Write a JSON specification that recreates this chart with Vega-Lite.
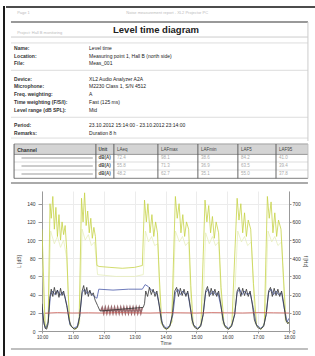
{
"$schema": "https://vega.github.io/schema/vega-lite/v6.json",
"padding": {"left": 3, "top": 6, "right": 0, "bottom": 0},
"config": {"view": {"stroke": null}, "font": "Liberation Sans",
  "axis": {"labelFontSize": 5, "titleFontSize": 5, "titleFontWeight": "normal", "labelColor": "#333", "titleColor": "#444", "tickColor": "#999", "domainColor": "#999", "tickSize": 3, "gridColor": "#ececec", "labelOverlap": false}},
"datasets": {
 "info": [
  {"line": 0, "label": "Name:", "value": "Level time"},
  {"line": 1, "label": "Location:", "value": "Measuring point 1, Hall B (north side)"},
  {"line": 2, "label": "File:", "value": "Meas_001"},
  {"line": 4, "label": "Device:", "value": "XL2 Audio Analyzer A2A"},
  {"line": 5, "label": "Microphone:", "value": "M2230 Class 1, S/N 4512"},
  {"line": 6, "label": "Freq. weighting:", "value": "A"},
  {"line": 7, "label": "Time weighting (F/S/I):", "value": "Fast (125 ms)"},
  {"line": 8, "label": "Level range (dB SPL):", "value": "Mid"},
  {"line": 10, "label": "Period:", "value": "23.10.2012 15:14:00 - 23.10.2012 23:14:00"},
  {"line": 11, "label": "Remarks:", "value": "Duration 8 h"}
 ],
 "table": [
  {"row": 0, "name": "Channel", "unit": "Unit", "c3": "LAeq", "c4": "LAFmax", "c5": "LAFmin", "c6": "LAF5", "c7": "LAF95"},
  {"row": 1, "name": "", "unit": "dB(A)", "c3": "72.4", "c4": "98.1", "c5": "38.6", "c6": "84.2", "c7": "41.0"},
  {"row": 2, "name": "", "unit": "dB(A)", "c3": "55.8", "c4": "71.3", "c5": "36.9", "c6": "63.5", "c7": "39.4"},
  {"row": 3, "name": "", "unit": "dB(A)", "c3": "48.2", "c4": "62.7", "c5": "35.1", "c6": "55.0", "c7": "37.8"}
 ],
 "swatch": [{"row": 1}, {"row": 2}, {"row": 3}],
 "yellow": [
  {"t":0,"v":112},{"t":0.05,"v":60},{"t":0.1,"v":6},{"t":0.15,"v":3},{"t":0.2,"v":12},{"t":0.26,"v":140},{"t":0.3,"v":124},{"t":0.35,"v":148},{"t":0.4,"v":112},{"t":0.45,"v":136},{"t":0.5,"v":104},{"t":0.55,"v":128},{"t":0.6,"v":100},{"t":0.65,"v":120},{"t":0.7,"v":106},{"t":0.75,"v":116},{"t":0.8,"v":90},{"t":0.85,"v":40},{"t":0.9,"v":8},{"t":1.0,"v":3},{"t":1.1,"v":2},{"t":1.2,"v":8},{"t":1.28,"v":146},{"t":1.33,"v":120},{"t":1.38,"v":152},{"t":1.43,"v":116},{"t":1.48,"v":132},{"t":1.53,"v":108},{"t":1.58,"v":124},{"t":1.63,"v":102},{"t":1.68,"v":114},{"t":1.73,"v":104},{"t":1.78,"v":72},{"t":1.85,"v":71},{"t":2.2,"v":70},{"t":2.6,"v":69},{"t":3.0,"v":70},{"t":3.25,"v":72},{"t":3.32,"v":144},{"t":3.38,"v":120},{"t":3.43,"v":140},{"t":3.5,"v":108},{"t":3.56,"v":128},{"t":3.62,"v":104},{"t":3.68,"v":120},{"t":3.74,"v":108},{"t":3.8,"v":60},{"t":3.88,"v":8},{"t":4.0,"v":2},{"t":4.1,"v":3},{"t":4.2,"v":10},{"t":4.32,"v":148},{"t":4.38,"v":124},{"t":4.44,"v":140},{"t":4.5,"v":108},{"t":4.56,"v":128},{"t":4.62,"v":104},{"t":4.68,"v":120},{"t":4.75,"v":112},{"t":4.82,"v":50},{"t":4.9,"v":6},{"t":5.05,"v":2},{"t":5.15,"v":8},{"t":5.28,"v":144},{"t":5.34,"v":120},{"t":5.4,"v":138},{"t":5.46,"v":108},{"t":5.52,"v":126},{"t":5.58,"v":102},{"t":5.64,"v":120},{"t":5.72,"v":108},{"t":5.8,"v":48},{"t":5.9,"v":6},{"t":6.05,"v":2},{"t":6.15,"v":8},{"t":6.32,"v":146},{"t":6.38,"v":122},{"t":6.44,"v":140},{"t":6.5,"v":108},{"t":6.56,"v":130},{"t":6.62,"v":104},{"t":6.68,"v":122},{"t":6.76,"v":112},{"t":6.85,"v":52},{"t":6.95,"v":6},{"t":7.1,"v":2},{"t":7.2,"v":8},{"t":7.3,"v":148},{"t":7.36,"v":124},{"t":7.42,"v":142},{"t":7.48,"v":108},{"t":7.54,"v":130},{"t":7.6,"v":104},{"t":7.66,"v":122},{"t":7.74,"v":112},{"t":7.82,"v":60},{"t":7.9,"v":12},{"t":8.0,"v":8}
 ],
 "yellow2": [
  {"t":0,"v":80},{"t":0.1,"v":5},{"t":0.2,"v":10},{"t":0.28,"v":110},{"t":0.4,"v":96},{"t":0.5,"v":104},{"t":0.6,"v":92},{"t":0.7,"v":100},{"t":0.8,"v":80},{"t":0.9,"v":6},{"t":1.1,"v":2},{"t":1.22,"v":10},{"t":1.3,"v":112},{"t":1.4,"v":100},{"t":1.5,"v":106},{"t":1.6,"v":94},{"t":1.7,"v":98},{"t":1.8,"v":62},{"t":2.4,"v":60},{"t":3.0,"v":60},{"t":3.28,"v":62},{"t":3.35,"v":110},{"t":3.45,"v":98},{"t":3.55,"v":104},{"t":3.65,"v":94},{"t":3.75,"v":96},{"t":3.85,"v":8},{"t":4.05,"v":2},{"t":4.22,"v":10},{"t":4.32,"v":110},{"t":4.45,"v":98},{"t":4.55,"v":104},{"t":4.65,"v":94},{"t":4.75,"v":98},{"t":4.85,"v":8},{"t":5.05,"v":2},{"t":5.2,"v":10},{"t":5.3,"v":108},{"t":5.42,"v":96},{"t":5.52,"v":104},{"t":5.62,"v":94},{"t":5.72,"v":98},{"t":5.84,"v":8},{"t":6.05,"v":2},{"t":6.2,"v":10},{"t":6.34,"v":110},{"t":6.46,"v":98},{"t":6.56,"v":104},{"t":6.66,"v":94},{"t":6.78,"v":98},{"t":6.9,"v":8},{"t":7.1,"v":2},{"t":7.22,"v":10},{"t":7.32,"v":110},{"t":7.44,"v":98},{"t":7.54,"v":104},{"t":7.64,"v":94},{"t":7.76,"v":98},{"t":7.88,"v":10},{"t":8.0,"v":8}
 ],
 "blue": [
  {"t":0,"v":26},{"t":0.06,"v":8},{"t":0.12,"v":3},{"t":0.2,"v":10},{"t":0.27,"v":38},{"t":0.34,"v":44},{"t":0.42,"v":40},{"t":0.5,"v":45},{"t":0.58,"v":39},{"t":0.66,"v":43},{"t":0.74,"v":38},{"t":0.82,"v":26},{"t":0.9,"v":7},{"t":1.02,"v":3},{"t":1.14,"v":5},{"t":1.22,"v":16},{"t":1.3,"v":42},{"t":1.38,"v":46},{"t":1.46,"v":41},{"t":1.54,"v":44},{"t":1.62,"v":40},{"t":1.7,"v":38},{"t":1.78,"v":36},{"t":1.84,"v":46},{"t":2.3,"v":45},{"t":2.8,"v":46},{"t":3.25,"v":46},{"t":3.34,"v":51},{"t":3.44,"v":49},{"t":3.54,"v":45},{"t":3.62,"v":43},{"t":3.72,"v":41},{"t":3.8,"v":28},{"t":3.9,"v":8},{"t":4.02,"v":3},{"t":4.14,"v":6},{"t":4.24,"v":18},{"t":4.32,"v":42},{"t":4.4,"v":46},{"t":4.48,"v":40},{"t":4.56,"v":44},{"t":4.64,"v":40},{"t":4.72,"v":42},{"t":4.8,"v":26},{"t":4.9,"v":7},{"t":5.04,"v":3},{"t":5.14,"v":6},{"t":5.22,"v":18},{"t":5.3,"v":42},{"t":5.38,"v":46},{"t":5.46,"v":40},{"t":5.54,"v":44},{"t":5.62,"v":40},{"t":5.7,"v":42},{"t":5.8,"v":26},{"t":5.9,"v":7},{"t":6.04,"v":3},{"t":6.14,"v":6},{"t":6.24,"v":18},{"t":6.32,"v":42},{"t":6.4,"v":46},{"t":6.48,"v":40},{"t":6.56,"v":44},{"t":6.64,"v":40},{"t":6.74,"v":42},{"t":6.84,"v":26},{"t":6.94,"v":7},{"t":7.08,"v":3},{"t":7.18,"v":6},{"t":7.26,"v":18},{"t":7.34,"v":42},{"t":7.42,"v":46},{"t":7.5,"v":40},{"t":7.58,"v":44},{"t":7.66,"v":40},{"t":7.76,"v":42},{"t":7.84,"v":26},{"t":7.94,"v":10},{"t":8.0,"v":14}
 ],
 "band": [
  {"t":1.9,"v":22},{"t":1.95,"v":26},{"t":2.0,"v":19.5},{"t":2.05,"v":26},{"t":2.1,"v":19.5},{"t":2.15,"v":26},{"t":2.2,"v":19.5},{"t":2.25,"v":26},{"t":2.3,"v":19.5},{"t":2.35,"v":26},{"t":2.4,"v":19.5},{"t":2.45,"v":26},{"t":2.5,"v":19.5},{"t":2.55,"v":26},{"t":2.6,"v":19.5},{"t":2.65,"v":26},{"t":2.7,"v":19.5},{"t":2.75,"v":26},{"t":2.8,"v":19.5},{"t":2.85,"v":26},{"t":2.9,"v":19.5},{"t":2.95,"v":26},{"t":3.0,"v":19.5},{"t":3.05,"v":26},{"t":3.1,"v":19.5},{"t":3.15,"v":26},{"t":3.2,"v":19.5},{"t":3.25,"v":26}
 ],
 "dark": [
  {"t":0,"v":30},{"t":0.05,"v":12},{"t":0.1,"v":3},{"t":0.15,"v":2},{"t":0.2,"v":8},{"t":0.25,"v":36},{"t":0.3,"v":46},{"t":0.35,"v":38},{"t":0.4,"v":48},{"t":0.45,"v":40},{"t":0.5,"v":45},{"t":0.55,"v":37},{"t":0.6,"v":47},{"t":0.65,"v":39},{"t":0.7,"v":44},{"t":0.75,"v":36},{"t":0.8,"v":28},{"t":0.88,"v":12},{"t":0.95,"v":5},{"t":1.05,"v":2},{"t":1.15,"v":4},{"t":1.22,"v":16},{"t":1.3,"v":44},{"t":1.35,"v":50},{"t":1.4,"v":40},{"t":1.45,"v":48},{"t":1.5,"v":38},{"t":1.55,"v":45},{"t":1.6,"v":39},{"t":1.66,"v":42},{"t":1.72,"v":34},{"t":1.8,"v":28},{"t":1.88,"v":22},{"t":3.28,"v":26},{"t":3.32,"v":30},{"t":3.36,"v":44},{"t":3.42,"v":38},{"t":3.48,"v":48},{"t":3.54,"v":40},{"t":3.6,"v":46},{"t":3.66,"v":38},{"t":3.72,"v":44},{"t":3.78,"v":32},{"t":3.86,"v":12},{"t":3.94,"v":4},{"t":4.04,"v":2},{"t":4.14,"v":5},{"t":4.22,"v":18},{"t":4.3,"v":44},{"t":4.36,"v":48},{"t":4.42,"v":38},{"t":4.48,"v":47},{"t":4.54,"v":39},{"t":4.6,"v":46},{"t":4.66,"v":38},{"t":4.72,"v":44},{"t":4.78,"v":32},{"t":4.86,"v":12},{"t":4.94,"v":4},{"t":5.04,"v":2},{"t":5.14,"v":5},{"t":5.22,"v":18},{"t":5.3,"v":44},{"t":5.36,"v":49},{"t":5.42,"v":38},{"t":5.48,"v":47},{"t":5.54,"v":39},{"t":5.6,"v":46},{"t":5.66,"v":38},{"t":5.72,"v":44},{"t":5.78,"v":32},{"t":5.86,"v":12},{"t":5.94,"v":4},{"t":6.04,"v":2},{"t":6.14,"v":5},{"t":6.24,"v":18},{"t":6.32,"v":44},{"t":6.38,"v":48},{"t":6.44,"v":38},{"t":6.5,"v":47},{"t":6.56,"v":39},{"t":6.62,"v":46},{"t":6.68,"v":38},{"t":6.74,"v":44},{"t":6.8,"v":32},{"t":6.88,"v":12},{"t":6.98,"v":4},{"t":7.08,"v":2},{"t":7.18,"v":5},{"t":7.26,"v":18},{"t":7.34,"v":44},{"t":7.4,"v":48},{"t":7.46,"v":38},{"t":7.52,"v":47},{"t":7.58,"v":39},{"t":7.64,"v":46},{"t":7.7,"v":38},{"t":7.76,"v":44},{"t":7.82,"v":32},{"t":7.9,"v":12},{"t":7.96,"v":8},{"t":8.0,"v":10}
 ],
 "red": [
  {"t":0.1,"v":98},{"t":0.5,"v":101},{"t":1.0,"v":99},{"t":1.5,"v":100},{"t":2.0,"v":99},{"t":2.5,"v":101},{"t":3.0,"v":100},{"t":3.5,"v":99},{"t":4.0,"v":101},{"t":4.5,"v":100},{"t":5.0,"v":99},{"t":5.5,"v":101},{"t":6.0,"v":100},{"t":6.5,"v":99},{"t":7.0,"v":101},{"t":7.5,"v":100},{"t":8.0,"v":99}
 ]
},
"spacing": 0,
"hconcat": [
 {"width": 2, "height": 350, "view": {"fill": "#1a1a1a", "stroke": null}, "data": {"values": [{}]}, "mark": {"type": "text", "text": ""}},
 {"spacing": 0, "vconcat": [
  {"width": 310, "height": 135,
   "layer": [
    {"data": {"values": [{}]}, "mark": {"type": "rule", "color": "#111", "strokeWidth": 1.5},
     "encoding": {"x": {"datum": 0, "type": "quantitative", "scale": {"domain": [0, 100]}, "axis": null}, "x2": {"datum": 100}, "y": {"datum": -5.32, "type": "quantitative", "scale": {"domain": [-5.45, 12.08], "reverse": true}, "axis": null}}},
    {"data": {"values": [{}]}, "mark": {"type": "rule", "color": "#999", "strokeWidth": 2},
     "encoding": {"x": {"datum": 1.6, "type": "quantitative", "scale": {"domain": [0, 100]}, "axis": null}, "x2": {"datum": 97.4}, "y": {"datum": -3.37, "type": "quantitative", "scale": {"domain": [-5.45, 12.08], "reverse": true}, "axis": null}}},
    {"data": {"values": [{}]}, "mark": {"type": "rule", "color": "#ccc", "strokeWidth": 1},
     "encoding": {"x": {"datum": 1.6, "type": "quantitative", "scale": {"domain": [0, 100]}, "axis": null}, "x2": {"datum": 97.4}, "y": {"datum": -1.42, "type": "quantitative", "scale": {"domain": [-5.45, 12.08], "reverse": true}, "axis": null}}},
    {"data": {"values": [{}]}, "mark": {"type": "rule", "color": "#ddd", "strokeWidth": 1},
     "encoding": {"x": {"datum": 1.6, "type": "quantitative", "scale": {"domain": [0, 100]}, "axis": null}, "x2": {"datum": 97.4}, "y": {"datum": -0.65, "type": "quantitative", "scale": {"domain": [-5.45, 12.08], "reverse": true}, "axis": null}}},
    {"data": {"values": [{}]}, "mark": {"type": "rule", "color": "#ddd", "strokeWidth": 1},
     "encoding": {"x": {"datum": 1.6, "type": "quantitative", "scale": {"domain": [0, 100]}, "axis": null}, "x2": {"datum": 97.4}, "y": {"datum": 2.9, "type": "quantitative", "scale": {"domain": [-5.45, 12.08], "reverse": true}, "axis": null}}},
    {"data": {"values": [{}]}, "mark": {"type": "rule", "color": "#ddd", "strokeWidth": 1},
     "encoding": {"x": {"datum": 1.6, "type": "quantitative", "scale": {"domain": [0, 100]}, "axis": null}, "x2": {"datum": 97.4}, "y": {"datum": 9, "type": "quantitative", "scale": {"domain": [-5.45, 12.08], "reverse": true}, "axis": null}}},
    {"data": {"values": [{}]}, "mark": {"type": "rule", "color": "#ddd", "strokeWidth": 1},
     "encoding": {"x": {"datum": 1.6, "type": "quantitative", "scale": {"domain": [0, 100]}, "axis": null}, "x2": {"datum": 97.4}, "y": {"datum": 11.7, "type": "quantitative", "scale": {"domain": [-5.45, 12.08], "reverse": true}, "axis": null}}},
    {"data": {"values": [{}]}, "mark": {"type": "rule", "color": "#ccc", "strokeWidth": 1},
     "encoding": {"x": {"datum": 97.4, "type": "quantitative", "scale": {"domain": [0, 100]}, "axis": null}, "y": {"datum": -3.37, "type": "quantitative", "scale": {"domain": [-5.45, 12.08], "reverse": true}, "axis": null}, "y2": {"datum": 12.08}}},
    {"data": {"values": [{"txt": "Noise measurement report - XL2 Projector PC"}]}, "mark": {"type": "text", "align": "center", "baseline": "middle", "fontSize": 4, "color": "#bbb"},
     "encoding": {"x": {"datum": 52, "type": "quantitative", "scale": {"domain": [0, 100]}, "axis": null}, "y": {"datum": -4.55, "type": "quantitative", "scale": {"domain": [-5.45, 12.08], "reverse": true}, "axis": null}, "text": {"field": "txt"}}},
    {"data": {"values": [{"txt": "Page 1"}]}, "mark": {"type": "text", "align": "left", "baseline": "middle", "fontSize": 4, "color": "#bbb"},
     "encoding": {"x": {"datum": 3.6, "type": "quantitative", "scale": {"domain": [0, 100]}, "axis": null}, "y": {"datum": -4.55, "type": "quantitative", "scale": {"domain": [-5.45, 12.08], "reverse": true}, "axis": null}, "text": {"field": "txt"}}},
    {"data": {"values": [{"txt": "Project: Hall B monitoring"}]}, "mark": {"type": "text", "align": "left", "baseline": "middle", "fontSize": 4, "color": "#bbb"},
     "encoding": {"x": {"datum": 3.6, "type": "quantitative", "scale": {"domain": [0, 100]}, "axis": null}, "y": {"datum": -1.94, "type": "quantitative", "scale": {"domain": [-5.45, 12.08], "reverse": true}, "axis": null}, "text": {"field": "txt"}}},
    {"data": {"values": [{"txt": "Level time diagram"}]}, "mark": {"type": "text", "align": "center", "baseline": "middle", "fontSize": 9.5, "fontWeight": "bold", "color": "#222"},
     "encoding": {"x": {"datum": 48.4, "type": "quantitative", "scale": {"domain": [0, 100]}, "axis": null}, "y": {"datum": -2.33, "type": "quantitative", "scale": {"domain": [-5.45, 12.08], "reverse": true}, "axis": null}, "text": {"field": "txt"}}},
    {"data": {"name": "info"}, "mark": {"type": "text", "align": "left", "baseline": "middle", "fontSize": 5, "fontWeight": "bold", "color": "#333"},
     "encoding": {"x": {"datum": 2.6, "type": "quantitative", "scale": {"domain": [0, 100]}, "axis": null}, "y": {"field": "line", "type": "quantitative", "scale": {"domain": [-5.45, 12.08], "reverse": true}, "axis": null}, "text": {"field": "label"}}},
    {"data": {"name": "info"}, "mark": {"type": "text", "align": "left", "baseline": "middle", "fontSize": 5, "color": "#222"},
     "encoding": {"x": {"datum": 26.8, "type": "quantitative", "scale": {"domain": [0, 100]}, "axis": null}, "y": {"field": "line", "type": "quantitative", "scale": {"domain": [-5.45, 12.08], "reverse": true}, "axis": null}, "text": {"field": "value"}}}
   ]},
  {"width": 310, "height": 49,
   "layer": [
    {"data": {"values": [{}]}, "mark": {"type": "rect", "color": "#d4d4d4"},
     "encoding": {"x": {"datum": 2.6, "type": "quantitative", "scale": {"domain": [0, 100]}, "axis": null}, "x2": {"datum": 97.4}, "y": {"datum": -0.72, "type": "quantitative", "scale": {"domain": [-1, 5.125], "reverse": true}, "axis": null}, "y2": {"datum": 0.55}}},
    {"data": {"values": [{}]}, "mark": {"type": "rule", "color": "#999", "strokeWidth": 1},
     "encoding": {"x": {"datum": 2.6, "type": "quantitative", "scale": {"domain": [0, 100]}, "axis": null}, "x2": {"datum": 97.4}, "y": {"datum": -0.75, "type": "quantitative", "scale": {"domain": [-1, 5.125], "reverse": true}, "axis": null}}},
    {"data": {"values": [{}]}, "mark": {"type": "rule", "color": "#999", "strokeWidth": 1},
     "encoding": {"x": {"datum": 2.6, "type": "quantitative", "scale": {"domain": [0, 100]}, "axis": null}, "x2": {"datum": 97.4}, "y": {"datum": 0.55, "type": "quantitative", "scale": {"domain": [-1, 5.125], "reverse": true}, "axis": null}}},
    {"data": {"values": [{}]}, "mark": {"type": "rule", "color": "#ddd", "strokeWidth": 1},
     "encoding": {"x": {"datum": 2.6, "type": "quantitative", "scale": {"domain": [0, 100]}, "axis": null}, "x2": {"datum": 97.4}, "y": {"datum": 1.5, "type": "quantitative", "scale": {"domain": [-1, 5.125], "reverse": true}, "axis": null}}},
    {"data": {"values": [{}]}, "mark": {"type": "rule", "color": "#ddd", "strokeWidth": 1},
     "encoding": {"x": {"datum": 2.6, "type": "quantitative", "scale": {"domain": [0, 100]}, "axis": null}, "x2": {"datum": 97.4}, "y": {"datum": 2.5, "type": "quantitative", "scale": {"domain": [-1, 5.125], "reverse": true}, "axis": null}}},
    {"data": {"values": [{}]}, "mark": {"type": "rule", "color": "#999", "strokeWidth": 1.2},
     "encoding": {"x": {"datum": 2.6, "type": "quantitative", "scale": {"domain": [0, 100]}, "axis": null}, "x2": {"datum": 97.4}, "y": {"datum": 3.55, "type": "quantitative", "scale": {"domain": [-1, 5.125], "reverse": true}, "axis": null}}},
    {"data": {"values": [{}]}, "mark": {"type": "rule", "color": "#aaa", "strokeWidth": 2},
     "encoding": {"x": {"datum": 1.6, "type": "quantitative", "scale": {"domain": [0, 100]}, "axis": null}, "x2": {"datum": 97.4}, "y": {"datum": 4.125, "type": "quantitative", "scale": {"domain": [-1, 5.125], "reverse": true}, "axis": null}}},
    {"data": {"values": [{}]}, "mark": {"type": "rule", "color": "#555", "strokeWidth": 0.9},
     "encoding": {"x": {"datum": 2.6, "type": "quantitative", "scale": {"domain": [0, 100]}, "axis": null}, "y": {"datum": -0.75, "type": "quantitative", "scale": {"domain": [-1, 5.125], "reverse": true}, "axis": null}, "y2": {"datum": 3.55}}},
    {"data": {"values": [{}]}, "mark": {"type": "rule", "color": "#555", "strokeWidth": 0.9},
     "encoding": {"x": {"datum": 29.0, "type": "quantitative", "scale": {"domain": [0, 100]}, "axis": null}, "y": {"datum": -0.75, "type": "quantitative", "scale": {"domain": [-1, 5.125], "reverse": true}, "axis": null}, "y2": {"datum": 3.55}}},
    {"data": {"values": [{}]}, "mark": {"type": "rule", "color": "#555", "strokeWidth": 0.9},
     "encoding": {"x": {"datum": 34.8, "type": "quantitative", "scale": {"domain": [0, 100]}, "axis": null}, "y": {"datum": -0.75, "type": "quantitative", "scale": {"domain": [-1, 5.125], "reverse": true}, "axis": null}, "y2": {"datum": 3.55}}},
    {"data": {"values": [{}]}, "mark": {"type": "rule", "color": "#555", "strokeWidth": 0.9},
     "encoding": {"x": {"datum": 49.0, "type": "quantitative", "scale": {"domain": [0, 100]}, "axis": null}, "y": {"datum": -0.75, "type": "quantitative", "scale": {"domain": [-1, 5.125], "reverse": true}, "axis": null}, "y2": {"datum": 3.55}}},
    {"data": {"values": [{}]}, "mark": {"type": "rule", "color": "#555", "strokeWidth": 0.9},
     "encoding": {"x": {"datum": 61.9, "type": "quantitative", "scale": {"domain": [0, 100]}, "axis": null}, "y": {"datum": -0.75, "type": "quantitative", "scale": {"domain": [-1, 5.125], "reverse": true}, "axis": null}, "y2": {"datum": 3.55}}},
    {"data": {"values": [{}]}, "mark": {"type": "rule", "color": "#555", "strokeWidth": 0.9},
     "encoding": {"x": {"datum": 74.8, "type": "quantitative", "scale": {"domain": [0, 100]}, "axis": null}, "y": {"datum": -0.75, "type": "quantitative", "scale": {"domain": [-1, 5.125], "reverse": true}, "axis": null}, "y2": {"datum": 3.55}}},
    {"data": {"values": [{}]}, "mark": {"type": "rule", "color": "#555", "strokeWidth": 0.9},
     "encoding": {"x": {"datum": 87.1, "type": "quantitative", "scale": {"domain": [0, 100]}, "axis": null}, "y": {"datum": -0.75, "type": "quantitative", "scale": {"domain": [-1, 5.125], "reverse": true}, "axis": null}, "y2": {"datum": 3.55}}},
    {"data": {"values": [{}]}, "mark": {"type": "rule", "color": "#bbb", "strokeWidth": 0.9},
     "encoding": {"x": {"datum": 97.4, "type": "quantitative", "scale": {"domain": [0, 100]}, "axis": null}, "y": {"datum": -0.75, "type": "quantitative", "scale": {"domain": [-1, 5.125], "reverse": true}, "axis": null}, "y2": {"datum": 3.55}}},
    {"data": {"name": "swatch"}, "mark": {"type": "rule", "color": "#999", "strokeWidth": 1.2},
     "encoding": {"x": {"datum": 5, "type": "quantitative", "scale": {"domain": [0, 100]}, "axis": null}, "x2": {"datum": 28}, "y": {"field": "row", "type": "quantitative", "scale": {"domain": [-1, 5.125], "reverse": true}, "axis": null}}},
    {"data": {"name": "table"}, "mark": {"type": "text", "align": "left", "baseline": "middle", "fontSize": 5, "fontWeight": "bold", "color": "#333"},
     "encoding": {"x": {"datum": 3.6, "type": "quantitative", "scale": {"domain": [0, 100]}, "axis": null}, "y": {"field": "row", "type": "quantitative", "scale": {"domain": [-1, 5.125], "reverse": true}, "axis": null}, "text": {"field": "name"}}},
    {"data": {"name": "table"}, "mark": {"type": "text", "align": "left", "baseline": "middle", "fontSize": 4.5, "fontWeight": "bold", "color": "#444"},
     "encoding": {"x": {"datum": 29.8, "type": "quantitative", "scale": {"domain": [0, 100]}, "axis": null}, "y": {"field": "row", "type": "quantitative", "scale": {"domain": [-1, 5.125], "reverse": true}, "axis": null}, "text": {"field": "unit"}}},
    {"data": {"name": "table"}, "mark": {"type": "text", "align": "left", "baseline": "middle", "fontSize": 4.5},
     "encoding": {"x": {"datum": 35.8, "type": "quantitative", "scale": {"domain": [0, 100]}, "axis": null}, "y": {"field": "row", "type": "quantitative", "scale": {"domain": [-1, 5.125], "reverse": true}, "axis": null}, "text": {"field": "c3"}, "color": {"condition": {"test": "datum.row == 0", "value": "#444"}, "value": "#aaa"}}},
    {"data": {"name": "table"}, "mark": {"type": "text", "align": "left", "baseline": "middle", "fontSize": 4.5},
     "encoding": {"x": {"datum": 50, "type": "quantitative", "scale": {"domain": [0, 100]}, "axis": null}, "y": {"field": "row", "type": "quantitative", "scale": {"domain": [-1, 5.125], "reverse": true}, "axis": null}, "text": {"field": "c4"}, "color": {"condition": {"test": "datum.row == 0", "value": "#444"}, "value": "#aaa"}}},
    {"data": {"name": "table"}, "mark": {"type": "text", "align": "left", "baseline": "middle", "fontSize": 4.5},
     "encoding": {"x": {"datum": 62.9, "type": "quantitative", "scale": {"domain": [0, 100]}, "axis": null}, "y": {"field": "row", "type": "quantitative", "scale": {"domain": [-1, 5.125], "reverse": true}, "axis": null}, "text": {"field": "c5"}, "color": {"condition": {"test": "datum.row == 0", "value": "#444"}, "value": "#aaa"}}},
    {"data": {"name": "table"}, "mark": {"type": "text", "align": "left", "baseline": "middle", "fontSize": 4.5},
     "encoding": {"x": {"datum": 75.8, "type": "quantitative", "scale": {"domain": [0, 100]}, "axis": null}, "y": {"field": "row", "type": "quantitative", "scale": {"domain": [-1, 5.125], "reverse": true}, "axis": null}, "text": {"field": "c6"}, "color": {"condition": {"test": "datum.row == 0", "value": "#444"}, "value": "#aaa"}}},
    {"data": {"name": "table"}, "mark": {"type": "text", "align": "left", "baseline": "middle", "fontSize": 4.5},
     "encoding": {"x": {"datum": 88.1, "type": "quantitative", "scale": {"domain": [0, 100]}, "axis": null}, "y": {"field": "row", "type": "quantitative", "scale": {"domain": [-1, 5.125], "reverse": true}, "axis": null}, "text": {"field": "c7"}, "color": {"condition": {"test": "datum.row == 0", "value": "#444"}, "value": "#aaa"}}}
   ]},
  {"spacing": 0, "hconcat": [
   {"width": 10, "height": 140, "data": {"values": [{}]}, "mark": {"type": "text", "text": ""}},
   {"width": 247, "height": 140,
    "encoding": {"x": {"field": "t", "type": "quantitative", "scale": {"domain": [0, 8], "nice": false}, "axis": {"values": [0,1,2,3,4,5,6,7,8], "labelExpr": "(datum.value + 10) + ':00'", "labelFontSize": 4.5, "labelOverlap": false, "labelFlush": false, "title": "Time", "grid": true, "tickSize": 2, "labelPadding": 1, "titlePadding": 2}}},
    "layer": [
     {"encoding": {"y": {"field": "v", "type": "quantitative", "scale": {"domain": [0, 154], "nice": false}, "axis": {"values": [0,20,40,60,80,100,120,140], "labelOverlap": false, "title": "L [dB]", "orient": "left", "tickSize": 4, "labelPadding": 3, "titlePadding": 5}}},
      "layer": [
      {"data": {"name": "yellow2"}, "mark": {"type": "line", "color": "#e4ecb4", "strokeWidth": 0.7, "clip": true}},
      {"data": {"name": "yellow"}, "mark": {"type": "line", "color": "#c6d348", "strokeWidth": 0.8, "clip": true}},
      {"data": {"name": "band"}, "mark": {"type": "line", "color": "#9c6e72", "strokeWidth": 1.6, "clip": true}},
      {"data": {"name": "blue"}, "mark": {"type": "line", "color": "#4858a8", "strokeWidth": 0.8, "clip": true}},
      {"data": {"name": "dark"}, "mark": {"type": "line", "color": "#333333", "strokeWidth": 0.8, "clip": true}}
     ]},
     {"data": {"name": "red"}, "mark": {"type": "line", "color": "#c8564e", "strokeWidth": 0.8, "clip": true},
      "encoding": {"y": {"field": "v", "type": "quantitative", "scale": {"domain": [0, 770], "nice": false}, "axis": {"values": [0,100,200,300,400,500,600,700], "labelOverlap": false, "title": "f [Hz]", "orient": "right", "tickSize": 2, "labelPadding": 1, "titlePadding": 2}}}}
    ],
    "resolve": {"scale": {"y": "independent"}}}
  ]},
  {"width": 310, "height": 6, "data": {"values": [{}]}, "mark": {"type": "rule", "color": "#aaa", "strokeWidth": 1.5},
   "encoding": {"x": {"datum": 1.6, "type": "quantitative", "scale": {"domain": [0, 100]}, "axis": null}, "x2": {"datum": 97.4}, "y": {"datum": 0.5, "type": "quantitative", "scale": {"domain": [0, 1]}, "axis": null}}}
 ]}
]
}
